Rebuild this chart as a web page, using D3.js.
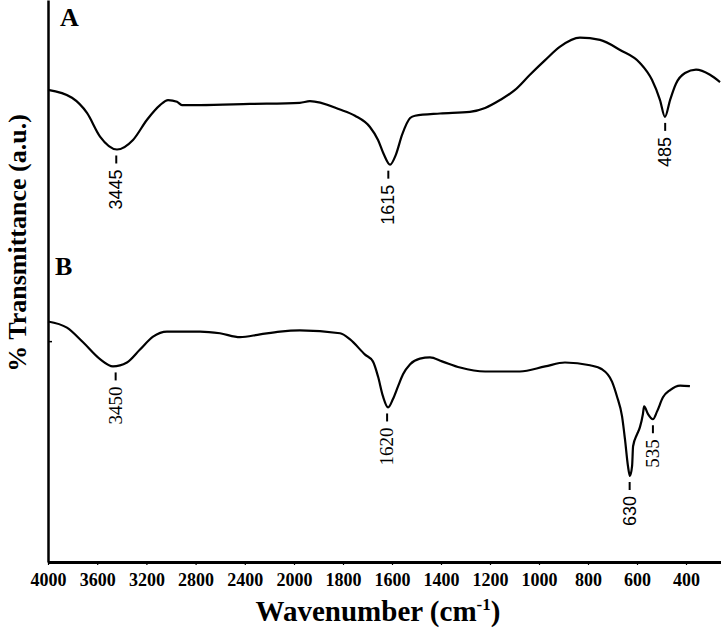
<!DOCTYPE html>
<html>
<head>
<meta charset="utf-8">
<script src="https://cdn.jsdelivr.net/npm/d3@7"></script>
<style>
  body { margin: 0; background: #fff; }
  svg { display: block; }
</style>
</head>
<body>
<div id="chart"></div>
<script>
// Spectrum A (wavenumber, cm-1) and transmittance (a.u.)
const wnA = [4000, 3805, 3683, 3577, 3439, 3309, 3195, 3089, 3024, 2951, 2911, 2764, 2358, 1976, 1935,
  1812, 1751, 1690, 1657, 1633, 1608, 1584, 1559, 1526, 1506, 1404, 1282, 1220, 1159, 1098, 1037,
  975, 914, 833, 751, 669, 588, 539, 506, 486, 465, 441, 404, 359, 302, 261];
const trA = [84.0, 82.6, 79.9, 75.7, 73.4, 75.1, 78.7, 81.3, 82.2, 81.9, 81.3, 81.3, 81.5, 81.7, 82.0,
  80.5, 79.4, 77.4, 75.1, 72.5, 70.7, 72.5, 76.0, 79.0, 79.4, 79.8, 80.1, 80.8, 82.2, 84.0, 86.7,
  89.3, 91.7, 93.3, 92.9, 91.1, 88.8, 85.8, 82.2, 79.2, 82.2, 85.1, 87.0, 87.6, 86.7, 85.4];

// Spectrum B
const wnB = [4000, 3846, 3715, 3577, 3472, 3358, 3252, 3146, 3033, 2927, 2764, 2602, 2439, 2276, 2114,
  1976, 1812, 1771, 1710, 1678, 1657, 1637, 1616, 1596, 1575, 1555, 1526, 1486, 1445, 1396, 1322,
  1220, 1078, 975, 894, 792, 743, 702, 682, 661, 649, 637, 629, 620, 616, 600, 588, 576, 571, 555,
  535, 518, 494, 465, 424, 384];
const trB = [42.8, 41.7, 39.1, 36.1, 34.8, 35.5, 37.8, 40.1, 41.0, 41.0, 41.0, 40.7, 40.0, 40.5, 41.0,
  41.2, 40.7, 39.6, 36.9, 35.7, 33.0, 29.5, 27.5, 29.0, 31.3, 33.4, 35.2, 36.2, 36.4, 35.7, 34.6,
  33.9, 33.9, 34.8, 35.5, 35.0, 34.3, 32.1, 29.5, 25.9, 21.8, 17.1, 15.3, 17.1, 20.6, 22.7, 24.0, 26.3,
  27.7, 26.3, 25.4, 26.8, 29.3, 30.6, 31.4, 31.3];

// Peak labels
const peaksA = ["3445", "1615", "485"];
const peaksB = ["3450", "1620", "630", "535"];
const sansPeaks = ["3445", "1615", "485", "630"];

// Axis ticks
const xTicks = [4000, 3600, 3200, 2800, 2400, 2000, 1800, 1600, 1400, 1200, 1000, 800, 600, 400];
const yTicks = [39.3];

const W = 721, H = 634;
const left = 48, bottom = 562;
const serif = "'Liberation Serif', 'Times New Roman', serif";
const sansFont = "'Liberation Sans', Arial, sans-serif";

const svg = d3.select("#chart").append("svg")
  .attr("width", W)
  .attr("height", H);

// x axis has a scale break at 2000 cm-1
const x = d3.scaleLinear()
  .domain([4000, 2000, 400, 257])
  .range([left, 294, 686, 721]);

const y = d3.scaleLinear()
  .domain([0, 100])
  .range([bottom, 0]);

const line = d3.line()
  .x(d => x(d[0]))
  .y(d => y(d[1]))
  .curve(d3.curveMonotoneX);

const seriesA = wnA.map((w, i) => [w, trA[i]]);
const seriesB = wnB.map((w, i) => [w, trB[i]]);

[seriesA, seriesB].forEach(s => {
  svg.append("path")
    .datum(s)
    .attr("fill", "none")
    .attr("stroke", "#000")
    .attr("stroke-width", 2.2)
    .attr("stroke-linejoin", "round")
    .attr("d", line);
});

// X axis
const xAxis = svg.append("g")
  .attr("transform", `translate(0,${bottom})`)
  .call(d3.axisBottom(x)
    .tickValues(xTicks)
    .tickSize(3)
    .tickSizeOuter(0)
    .tickPadding(8)
    .tickFormat(d3.format("d")));

xAxis.select(".domain").attr("stroke-width", 3);
xAxis.selectAll(".tick line").attr("stroke-width", 1.2);
xAxis.selectAll(".tick text")
  .attr("font-family", serif)
  .attr("font-weight", "bold")
  .attr("font-size", 18)
  .attr("fill", "#000");

// Y axis
const yAxis = svg.append("g")
  .attr("transform", `translate(${left},0)`)
  .call(d3.axisRight(y).tickValues(yTicks).tickSize(4).tickSizeOuter(0).tickFormat(""));

yAxis.select(".domain").attr("stroke-width", 2.5);
yAxis.selectAll(".tick line").attr("stroke-width", 1.5);

// Peak annotations: short dash below the minimum, then rotated label
function annotate(series, labels) {
  labels.forEach(lab => {
    const wn = +lab;
    const near = series.filter(d => Math.abs(d[0] - wn) <= 30);
    const tMin = d3.min(near, d => d[1]);
    const px = x(wn), py = y(tMin);
    svg.append("line")
      .attr("x1", px).attr("x2", px)
      .attr("y1", py + 6).attr("y2", py + 14)
      .attr("stroke", "#000")
      .attr("stroke-width", 2);
    const sans = sansPeaks.includes(lab);
    svg.append("text")
      .attr("transform", `translate(${px + 6},${py + 20}) rotate(-90)`)
      .attr("text-anchor", "end")
      .attr("font-family", sans ? sansFont : serif)
      .attr("font-size", sans ? 18 : 19)
      .attr("fill", "#000")
      .text(lab);
  });
}
annotate(seriesA, peaksA);
annotate(seriesB, peaksB);

// Panel letters
svg.append("text").attr("x", 60).attr("y", 26)
  .attr("font-family", serif).attr("font-weight", "bold").attr("font-size", 26).text("A");
svg.append("text").attr("x", 55).attr("y", 275)
  .attr("font-family", serif).attr("font-weight", "bold").attr("font-size", 26).text("B");

// Axis titles
const xt = svg.append("text")
  .attr("x", 378).attr("y", 621)
  .attr("text-anchor", "middle")
  .attr("font-family", serif).attr("font-weight", "bold").attr("font-size", 29);
xt.append("tspan").text("Wavenumber (cm");
xt.append("tspan").attr("font-size", 17).attr("dy", -11).text("-1");
xt.append("tspan").attr("dy", 11).text(")");

svg.append("text")
  .attr("transform", "translate(26,243) rotate(-90)")
  .attr("text-anchor", "middle")
  .attr("font-family", serif).attr("font-weight", "bold").attr("font-size", 26)
  .text("% Transmittance (a.u.)");
</script>
</body>
</html>
